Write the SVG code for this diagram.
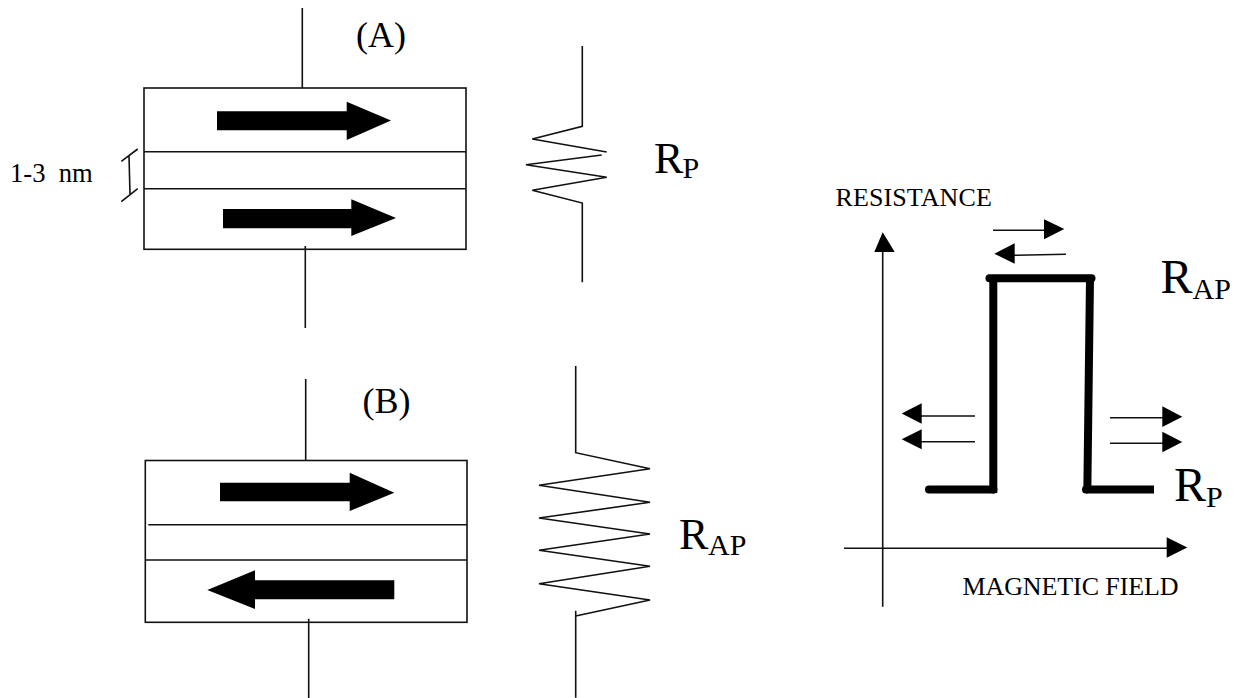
<svg xmlns="http://www.w3.org/2000/svg" width="1239" height="698" viewBox="0 0 1239 698">
<style>
text{font-family:"Liberation Serif","Times New Roman",serif;fill:#000}
.lb{font-size:36px}.sm{font-size:26px}.r{font-size:44px}.rb{font-size:48px}.s{font-size:30px}
.w{fill:none;stroke:#111;stroke-width:1.6}
.box{fill:#fff;stroke:#111;stroke-width:1.6}
.f{fill:#000;stroke:none}
.t{fill:none;stroke:#000;stroke-width:8}
</style>
<rect width="1239" height="698" fill="#fff"/>
<g id="device-a">
<rect class="box" x="144" y="88" width="322" height="161.300"/>
<path class="w" d="M144 151.700H466M144 188.700H466"/>
<polygon class="f" points="217,111.300 346.700,111.300 346.700,101.700 391,120.500 346.700,140 346.700,130.300 217,130.300"/>
<polygon class="f" points="223,209 351.300,209 351.300,199.300 396,218 351.300,236 351.300,228.300 223,228.300"/>
<text class="lb" x="356" y="47">(A)</text>
</g>
<g id="thickness">
<path class="w" d="M121.300 161.300L137.700 149M129 156L130 194M121.300 201.700L137.700 188.700"/>
<text class="sm" x="10" y="181.700" xml:space="preserve" style="font-size:26.6px">1-3  nm</text>
</g>
<g id="resistor-p">
<path class="w" d="M582.300 46V126.300L532.300 139L606.700 152M601.700 155L526 164.700L606.700 177.300L532.300 190.300L582.300 203V282.300"/>
<text class="r" x="654" y="173.300">R</text><text class="s" x="682.500" y="178">P</text>
</g>
<g id="device-b">
<rect class="box" x="145.300" y="460.500" width="321.700" height="161.800"/>
<path class="w" d="M148.300 524.700H467M145.300 560H467"/>
<polygon class="f" points="220,482.700 349.700,482.700 349.700,472.700 394.300,492.700 349.700,511 349.700,501.300 220,501.300"/>
<polygon class="f" points="394.300,580.300 255,580.300 255,570.300 207.300,590 255,609 255,599.300 394.300,599.300"/>
<text class="lb" x="362.500" y="412.700">(B)</text>
</g>
<g id="resistor-ap">
<path class="w" d="M575.700 366V452.700L650 468.700L539 485.300L650 502.300L539 518L650 534L539 550.300L650 566.300L539 583.700L650 600L575.700 616M575.700 610.700V697.700"/>
<text class="r" x="679" y="549.300">R</text><text class="s" x="708" y="554.700">AP</text>
</g>
<g id="connectors">
<path class="w" d="M302.300 8V88M305.300 246V328M305.700 379V460.300M308.700 618.700V698"/>
</g>
<g id="chart-axes">
<path class="w" d="M882.700 606.700V250M844 548.300H1168"/>
<polygon class="f" points="882.700,232.300 894.700,252 874.300,252"/>
<polygon class="f" points="1187.300,547.500 1166.700,557.700 1166.700,537.300"/>
<text class="sm" x="835.500" y="205.700" letter-spacing=".1">RESISTANCE</text>
<text class="sm" x="962.500" y="595" letter-spacing="-.1">MAGNETIC FIELD</text>
</g>
<g id="chart-curve">
<path class="t" d="M929 489.500H993.300" stroke-linecap="round"/>
<path class="t" d="M993.300 493V278.300M1090 278.300L1087.300 493"/>
<path class="t" d="M989.500 278.300H1091.500" stroke-linecap="round"/>
<path class="t" d="M1086 489.500H1154" />
<circle class="f" cx="1086" cy="489.500" r="4"/>
<circle class="f" cx="993.300" cy="489.500" r="4"/>
</g>
<g id="chart-arrows">
<path class="w" d="M993 230.300H1046M1066 254.300L1013 255.300M975 416H920M975 441.700H920M1110 417.700H1164M1110 443.300H1164"/>
<polygon class="f" points="1064.300,229 1044,239.300 1044,219.300"/>
<polygon class="f" points="994.300,253.700 1014.700,243.300 1014.700,263.700"/>
<polygon class="f" points="901.700,413.500 921.700,403.300 921.700,423.700"/>
<polygon class="f" points="901.700,439.300 921.700,429.300 921.700,449.300"/>
<polygon class="f" points="1182.300,416.700 1162.300,406.300 1162.300,427"/>
<polygon class="f" points="1182.300,442 1162.300,431.700 1162.300,452.300"/>
</g>
<g id="chart-labels">
<text class="rb" x="1160.500" y="293.300">R</text><text class="s" x="1192.500" y="299">AP</text>
<text class="rb" x="1174" y="500.700">R</text><text class="s" x="1206" y="506.700">P</text>
</g>
</svg>
